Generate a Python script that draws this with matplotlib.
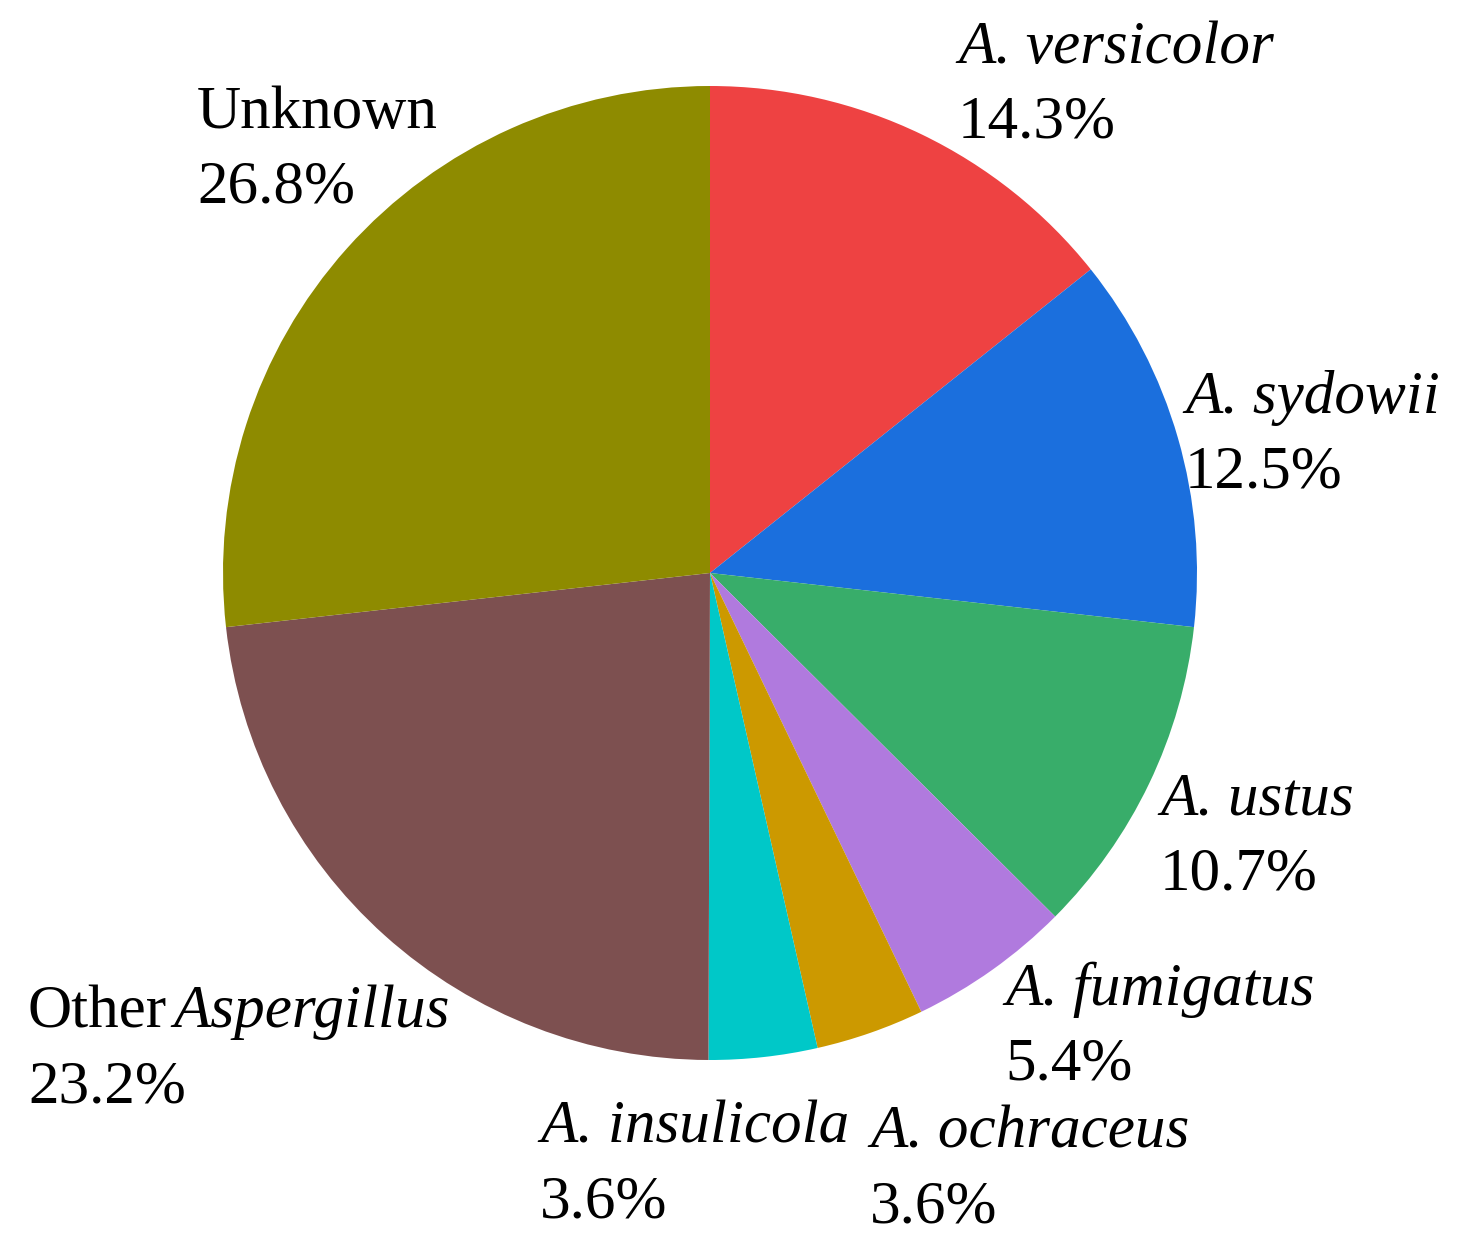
import matplotlib.pyplot as plt

plt.rcParams["font.family"] = ["Liberation Serif", "DejaVu Serif"]

labels = ["A. versicolor", "A. sydowii", "A. ustus", "A. fumigatus",
          "A. ochraceus", "A. insulicola", "Other Aspergillus", "Unknown"]
values = [14.3, 12.5, 10.7, 5.4, 3.6, 3.6, 23.2, 26.8]
colors = ["#EE4242", "#1B6FDD", "#38AD6A", "#B07ADE",
          "#CC9900", "#00C8C8", "#7D5050", "#8E8B00"]

W, H = 1461, 1259
fig = plt.figure(figsize=(W / 100, H / 100), dpi=100)
ax = fig.add_axes([0, 0, 1, 1])
ax.set_xlim(0, W)
ax.set_ylim(0, H)
ax.set_aspect("equal")
ax.axis("off")

ax.pie(values, colors=colors, startangle=90, counterclock=False,
       center=(710, H - 573), radius=487, frame=True)
ax.set_xlim(0, W)
ax.set_ylim(0, H)
ax.axis("off")

# label anchors (top-left, image pixels)
pos = [(958, 20), (1185, 370), (1160, 772), (1005, 962),
       (870, 1105), (540, 1100), (28, 985), (197, 85)]
fs = 44
for lab, v, (x, y) in zip(labels, values, pos):
    if lab.startswith("Other"):
        ax.text(x, H - y, "Other", fontsize=fs, va="top", ha="left")
        ax.text(x + 145, H - y, "Aspergillus", fontsize=fs, style="italic",
                va="top", ha="left")
    else:
        ax.text(x, H - y, lab, fontsize=fs, va="top", ha="left",
                style="normal" if lab == "Unknown" else "italic")
    ax.text(x, H - y - 75, f"{v}%", fontsize=fs, va="top", ha="left")

fig.savefig("out.png", dpi=100)
